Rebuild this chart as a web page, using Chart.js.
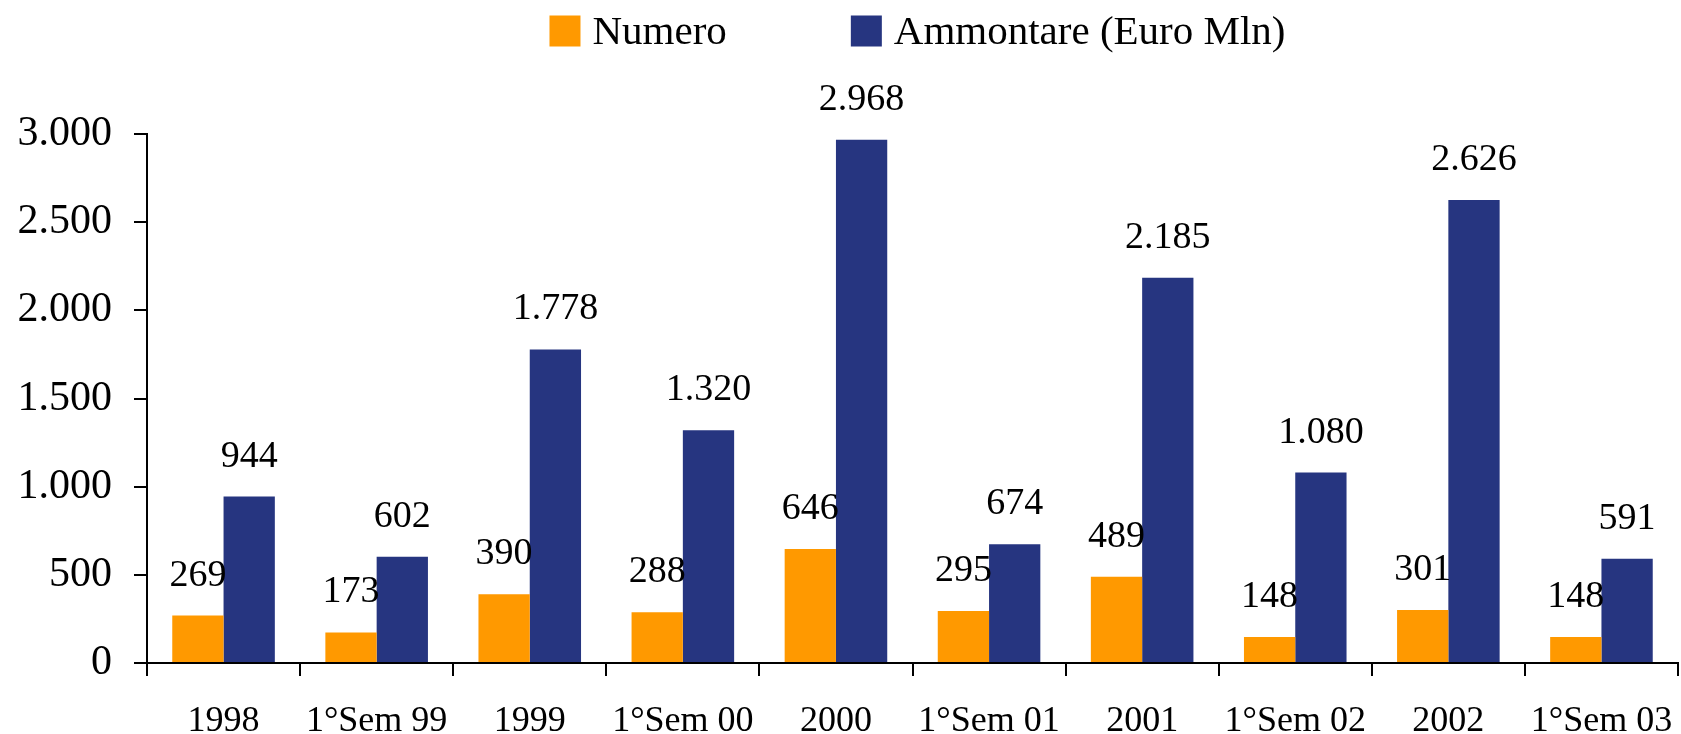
<!DOCTYPE html>
<html>
<head>
<meta charset="utf-8">
<script src="https://cdn.jsdelivr.net/npm/chart.js@4"></script>
<style>
  body { margin: 0; background: #fff; }
  canvas { display: block; }
</style>
</head>
<body>
<canvas id="chart" width="1681" height="734"></canvas>
<script>
const categories = ['1998', '1°Sem 99', '1999', '1°Sem 00', '2000', '1°Sem 01', '2001', '1°Sem 02', '2002', '1°Sem 03'];
const numero = [269, 173, 390, 288, 646, 295, 489, 148, 301, 148];
const ammontare = [944, 602, 1778, 1320, 2968, 674, 2185, 1080, 2626, 591];
const seriesNames = ['Numero', 'Ammontare (Euro Mln)'];
const yTicks = [0, 500, 1000, 1500, 2000, 2500, 3000];

const serif = "'Liberation Serif', 'Times New Roman', serif";

// 1000 -> "1.000"
const fmt = v => String(v).replace(/\B(?=(\d{3})+(?!\d))/g, '.');

// value labels above each bar
const valueLabels = {
    id: 'valueLabels',
    afterDatasetsDraw(chart) {
        const ctx = chart.ctx;
        ctx.save();
        ctx.font = '38px ' + serif;
        ctx.fillStyle = '#000';
        ctx.textAlign = 'center';
        ctx.textBaseline = 'middle';
        chart.data.datasets.forEach((ds, i) => {
            chart.getDatasetMeta(i).data.forEach((bar, j) => {
                ctx.fillText(fmt(ds.data[j]), bar.x, bar.y - 40);
            });
        });
        ctx.restore();
    }
};

// legend on top, square boxes close to the text
const topLegend = {
    id: 'topLegend',
    afterDraw(chart) {
        const ctx = chart.ctx;
        const box = 31, gapText = 12, gapItem = 124;
        ctx.save();
        ctx.font = '41px ' + serif;
        ctx.textBaseline = 'middle';
        ctx.textAlign = 'left';
        const items = chart.data.datasets.map(ds => ({
            text: ds.label,
            color: ds.backgroundColor,
            w: ctx.measureText(ds.label).width
        }));
        let total = 0;
        items.forEach((it, i) => {
            total += box + gapText + it.w + (i > 0 ? gapItem : 0);
        });
        const area = chart.chartArea;
        let x = (area.left + area.right) / 2 + 5 - total / 2;
        const y = 31;
        items.forEach(it => {
            ctx.fillStyle = it.color;
            ctx.fillRect(x, y - box / 2, box, box);
            ctx.fillStyle = '#000';
            ctx.fillText(it.text, x + box + gapText, y + 2);
            x += box + gapText + it.w + gapItem;
        });
        ctx.restore();
    }
};

new Chart(document.getElementById('chart'), {
    type: 'bar',
    data: {
        labels: categories,
        datasets: [
            {
                label: seriesNames[0],
                data: numero,
                backgroundColor: '#FF9900'
            },
            {
                label: seriesNames[1],
                data: ammontare,
                backgroundColor: '#263580'
            }
        ]
    },
    options: {
        responsive: false,
        animation: false,
        layout: {
            padding: { top: 134, right: 3, bottom: 0, left: 0 }
        },
        datasets: {
            bar: {
                barPercentage: 1,
                categoryPercentage: 0.67
            }
        },
        plugins: {
            legend: { display: false },
            tooltip: { enabled: false }
        },
        scales: {
            x: {
                afterFit: s => {
                    s.height = 71;
                    s.paddingLeft = 0;
                    s.paddingRight = 0;
                },
                grid: {
                    display: true,
                    drawOnChartArea: false,
                    offset: true,
                    tickLength: 13,
                    color: '#000',
                    lineWidth: 2
                },
                border: { display: true, color: '#000', width: 2 },
                ticks: {
                    color: '#000',
                    padding: 24,
                    maxRotation: 0,
                    autoSkip: false,
                    font: { family: serif, size: 36 }
                }
            },
            y: {
                min: 0,
                max: 3000,
                afterFit: s => { s.width = 147; },
                afterBuildTicks: s => { s.ticks = yTicks.map(v => ({ value: v })); },
                grid: {
                    display: true,
                    drawOnChartArea: false,
                    tickLength: 13,
                    color: '#000',
                    lineWidth: 2
                },
                border: { display: true, color: '#000', width: 2 },
                ticks: {
                    color: '#000',
                    padding: 22,
                    font: { family: serif, size: 42 },
                    callback: v => fmt(v)
                }
            }
        }
    },
    plugins: [valueLabels, topLegend]
});
</script>
</body>
</html>
